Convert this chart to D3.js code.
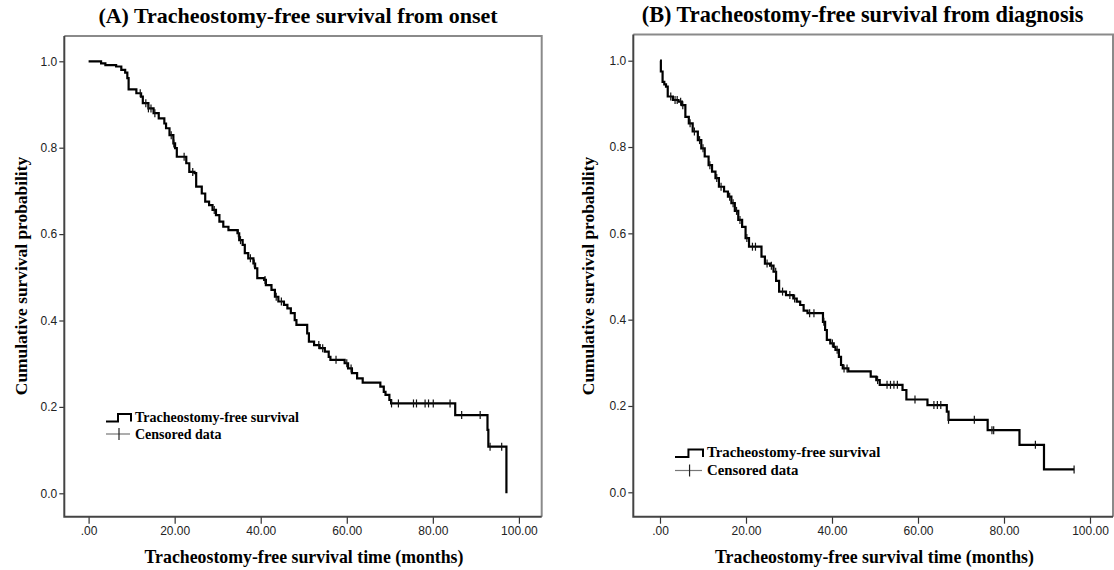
<!DOCTYPE html>
<html><head><meta charset="utf-8">
<script src="https://cdn.jsdelivr.net/npm/d3@7"></script>
<style>body{margin:0;background:#fff}svg{display:block}</style>
</head><body><svg id="c" width="1114" height="570"></svg>
<script>
// ---- data ----
const xTicks = [0, 20, 40, 60, 80, 100];
const xTickLabels = [".00", "20.00", "40.00", "60.00", "80.00", "100.00"];
const yTicks = [0, 0.2, 0.4, 0.6, 0.8, 1.0];
const yTickLabels = ["0.0", "0.2", "0.4", "0.6", "0.8", "1.0"];

const titles = ["(A) Tracheostomy-free survival from onset", "(B) Tracheostomy-free survival from diagnosis"];
const xLabel = "Tracheostomy-free survival time (months)";
const yLabel = "Cumulative survival probability";
const legendLabels = ["Tracheostomy-free survival", "Censored data"];

// Kaplan-Meier steps [time in months, survival after event]
const onsetSteps = [
  [2.9,0.995],[3.9,0.991],[6.4,0.988],[7.6,0.980],[8.5,0.974],[9.0,0.961],[9.3,0.935],
  [11.1,0.926],[12.2,0.918],[12.6,0.903],[13.9,0.891],[15.1,0.880],[16.3,0.868],[17.6,0.856],
  [18.0,0.845],[18.8,0.829],[19.7,0.810],[20.1,0.799],[20.5,0.779],[22.7,0.764],[23.4,0.744],
  [24.6,0.741],[25.0,0.710],[26.3,0.694],[27.1,0.675],[28.0,0.667],[28.8,0.656],[29.6,0.644],
  [30.4,0.629],[31.3,0.617],[32.5,0.609],[34.6,0.602],[35.0,0.586],[35.8,0.575],[36.3,0.556],
  [37.1,0.544],[38.3,0.532],[38.7,0.521],[39.2,0.498],[40.8,0.494],[41.2,0.482],[42.5,0.471],
  [43.3,0.455],[44.1,0.444],[45.4,0.436],[46.2,0.428],[47.0,0.417],[47.9,0.401],[48.3,0.390],
  [50.8,0.370],[51.2,0.351],[52.4,0.343],[53.7,0.336],[54.9,0.328],[55.8,0.316],[56.2,0.309],
  [59.5,0.301],[60.3,0.289],[61.2,0.278],[62.4,0.266],[63.7,0.256],[67.8,0.247],[68.6,0.235],
  [69.0,0.228],[69.9,0.216],[70.3,0.208],[85.2,0.181],[92.7,0.147],[92.9,0.108],[97.1,0.0]
];
const onsetCensored = [12.0,13.3,13.9,14.5,15.4,19.2,19.8,22.2,24.2,29.2,34.8,35.3,37.6,38.5,
  41.0,43.6,44.8,53.5,54.4,57.5,60.0,61.0,70.4,72.0,75.5,76.2,78.2,79.0,80.1,84.0,86.7,91.0,93.3,96.0];

const diagnosisSteps = [
  [0.2,0.975],[0.6,0.951],[1.0,0.945],[1.4,0.940],[1.8,0.917],[3.0,0.909],[4.3,0.905],
  [5.1,0.897],[5.9,0.870],[6.7,0.855],[7.6,0.836],[8.8,0.816],[9.6,0.797],[10.4,0.778],
  [11.3,0.758],[12.1,0.743],[12.9,0.728],[13.7,0.708],[14.9,0.697],[15.8,0.685],[16.6,0.670],
  [17.4,0.652],[18.2,0.631],[19.1,0.615],[19.9,0.589],[20.7,0.569],[23.6,0.546],[24.4,0.530],
  [25.6,0.525],[26.4,0.511],[27.0,0.490],[27.7,0.465],[29.3,0.457],[31.0,0.449],[31.8,0.442],
  [32.6,0.434],[33.4,0.421],[34.3,0.415],[37.9,0.395],[38.4,0.376],[38.8,0.353],[39.6,0.345],
  [40.4,0.337],[40.8,0.330],[41.6,0.314],[42.1,0.295],[42.5,0.287],[43.8,0.280],[49.0,0.268],
  [50.3,0.260],[51.1,0.249],[56.4,0.237],[57.3,0.215],[62.2,0.202],[66.7,0.187],[67.1,0.168],
  [76.2,0.144],[83.6,0.110],[89.3,0.053]
];
const diagnosisCensored = [2.5,3.5,4.0,4.8,5.3,7.0,8.0,9.2,10.0,11.6,13.2,14.2,16.2,17.0,17.8,
  18.6,20.2,21.5,22.2,24.9,25.9,26.9,28.5,30.2,31.3,34.8,35.8,38.1,40.1,41.2,42.8,43.5,50.6,
  52.8,53.6,54.4,55.2,59.3,63.7,64.5,65.3,67.1,73.1,77.2,77.6,87.3,96.3];

// ---- layout ----
const panels = [
  {steps: onsetSteps, censored: onsetCensored, title: titles[0],
   left: 64.3, top: 36, right: 541.7, bottom: 516.7, xr: [88.6, 518.9], yr: [493.3, 61.3],
   titleX: 298, titleY: 23, titleSize: 22,
   yLabX: 27, yLabY: 276, xLabX: 304, legX: 106, legY1: 421.5, legY2: 438.5,
   legW: 25, legFont: 14},
  {steps: diagnosisSteps, censored: diagnosisCensored, title: titles[1],
   left: 633.3, top: 34.5, right: 1113, bottom: 516.7, xr: [660, 1090], yr: [492.3, 60.7],
   titleX: 862.6, titleY: 21.5, titleSize: 22.3,
   yLabX: 594, yLabY: 276, xLabX: 874.5, legX: 675, legY1: 457, legY2: 475,
   legW: 28, legFont: 14.8}
];

const svg = d3.select("#c");
svg.append("rect").attr("width", 1114).attr("height", 570).attr("fill", "#fff");

panels.forEach(p => {
  const g = svg.append("g");
  const x = d3.scaleLinear().domain([0, 100]).range(p.xr);
  const y = d3.scaleLinear().domain([0, 1]).range(p.yr);

  // frame (top/right light)
  g.append("path").attr("d", `M${p.left},${p.top}H${p.right}V${p.bottom}`)
    .attr("fill", "none").attr("stroke", "#8a8a8a").attr("stroke-width", 2);

  // axes
  const xa = g.append("g").attr("transform", `translate(0,${p.bottom})`)
    .call(d3.axisBottom(x).tickValues(xTicks).tickFormat((d, i) => xTickLabels[i])
      .tickSize(7).tickSizeOuter(0).tickPadding(3));
  const ya = g.append("g").attr("transform", `translate(${p.left},0)`)
    .call(d3.axisLeft(y).tickValues(yTicks).tickFormat((d, i) => yTickLabels[i])
      .tickSize(5).tickSizeOuter(0).tickPadding(2));
  [xa, ya].forEach(a => {
    a.select(".domain").remove();
    a.selectAll("line").attr("stroke", "#333").attr("stroke-width", 1.2);
    a.selectAll("text").attr("font-family", "'Liberation Sans', Arial, sans-serif")
      .attr("font-size", 12).attr("fill", "#222");
  });
  g.append("path").attr("d", `M${p.left},${p.top}V${p.bottom}H${p.right}`)
    .attr("fill", "none").attr("stroke", "#444").attr("stroke-width", 2);

  // KM curve
  const last = p.steps[p.steps.length - 1];
  const tEnd = Math.max(last[0], d3.max(p.censored));
  const pts = [[0, 1], ...p.steps, [tEnd, last[1]]];
  const line = d3.line().x(d => x(d[0])).y(d => y(d[1])).curve(d3.curveStepAfter);
  g.append("path").attr("d", line(pts)).attr("fill", "none")
    .attr("stroke", "#000").attr("stroke-width", 2.2).attr("stroke-linejoin", "miter");

  // censor marks
  const survAt = t => { let s = 1; p.steps.forEach(d => { if (d[0] <= t) s = d[1]; }); return s; };
  g.selectAll(".cens").data(p.censored).enter().append("line")
    .attr("x1", d => x(d)).attr("x2", d => x(d))
    .attr("y1", d => y(survAt(d)) - 4).attr("y2", d => y(survAt(d)) + 4)
    .attr("stroke", "#111").attr("stroke-width", 1.2);

  // titles and labels
  const serif = "'Liberation Serif', 'Times New Roman', serif";
  g.append("text").attr("x", p.titleX).attr("y", p.titleY).attr("text-anchor", "middle")
    .attr("font-family", serif).attr("font-weight", "bold").attr("font-size", p.titleSize).text(p.title);
  g.append("text").attr("x", p.xLabX).attr("y", 563).attr("text-anchor", "middle")
    .attr("font-family", serif).attr("font-weight", "bold").attr("font-size", 17.8).text(xLabel);
  g.append("text").attr("transform", `translate(${p.yLabX},${p.yLabY}) rotate(-90)`)
    .attr("text-anchor", "middle").attr("font-family", serif).attr("font-weight", "bold")
    .attr("font-size", 17.4).text(yLabel);

  // legend
  const lx = p.legX, w = p.legW, h = 7.5;
  g.append("path").attr("d", `M${lx},${p.legY1}H${lx + w * 0.48}V${p.legY1 - h}H${lx + w}V${p.legY1}`)
    .attr("fill", "none").attr("stroke", "#000").attr("stroke-width", 2);
  const cy = p.legY2 - 4.5;
  g.append("line").attr("x1", lx).attr("x2", lx + w - 1).attr("y1", cy).attr("y2", cy)
    .attr("stroke", "#777").attr("stroke-width", 1.2);
  g.append("line").attr("x1", lx + w * 0.52).attr("x2", lx + w * 0.52).attr("y1", cy - 6).attr("y2", cy + 6)
    .attr("stroke", "#222").attr("stroke-width", 1.2);
  g.append("text").attr("x", lx + w + 4).attr("y", p.legY1)
    .attr("font-family", serif).attr("font-weight", "bold").attr("font-size", p.legFont).text(legendLabels[0]);
  g.append("text").attr("x", lx + w + 4).attr("y", p.legY2)
    .attr("font-family", serif).attr("font-weight", "bold").attr("font-size", p.legFont).text(legendLabels[1]);
});
</script></body></html>
